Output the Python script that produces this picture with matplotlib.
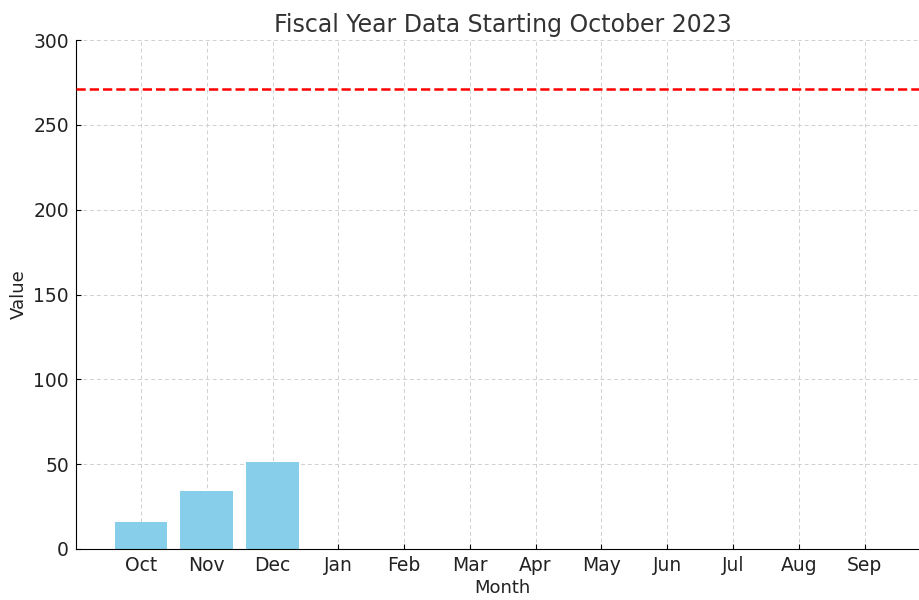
import matplotlib.pyplot as plt

months = ["Oct", "Nov", "Dec", "Jan", "Feb", "Mar", "Apr", "May", "Jun", "Jul", "Aug", "Sep"]
values = [15.7, 34.4, 51.1, 0, 0, 0, 0, 0, 0, 0, 0, 0]
target = 271.5

fig = plt.figure(figsize=(9.2, 6), dpi=100)
ax = fig.add_axes([0.0825, 0.085, 0.928, 0.848])

ax.bar(months, values, color="skyblue", width=0.8, zorder=2)
ax.axhline(target, color="red", linestyle="--", linewidth=1.8, zorder=3)

ax.set_ylim(0, 300)
ax.set_title("Fiscal Year Data Starting October 2023", fontsize=17, color="#333333")
ax.set_xlabel("Month", fontsize=13, color="#222222", labelpad=3)
ax.set_ylabel("Value", fontsize=13, color="#222222")
ax.tick_params(direction="in", labelsize=13.5, labelcolor="#222222", pad=5)
ax.grid(True, linestyle=(0, (4, 3)), color="#d0d0d0", linewidth=0.7, zorder=0)
ax.set_axisbelow(True)
ax.spines["top"].set_visible(False)
ax.spines["right"].set_visible(False)

fig.savefig("out.png", dpi=100)
